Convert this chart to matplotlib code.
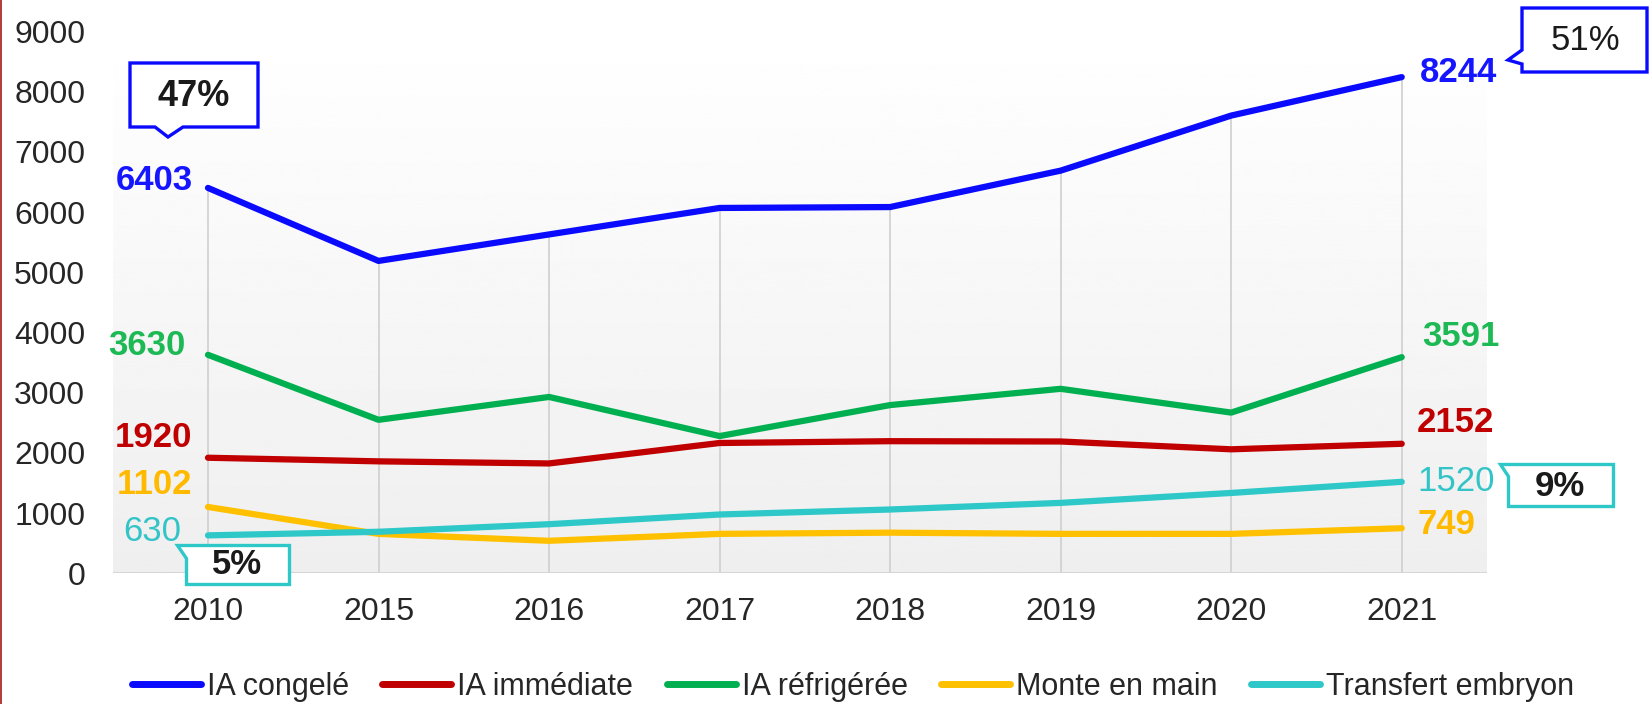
import matplotlib
matplotlib.use("Agg")
import matplotlib.pyplot as plt
from matplotlib.patches import Polygon
from matplotlib.lines import Line2D
import numpy as np

YEARS = ["2010", "2015", "2016", "2017", "2018", "2019", "2020", "2021"]

IA_CONGELE = [6403, 5190, 5630, 6070, 6085, 6690, 7605, 8244]
IA_IMMEDIATE = [1920, 1860, 1825, 2165, 2195, 2190, 2060, 2152]
IA_REFRIGEREE = [3630, 2550, 2930, 2280, 2795, 3065, 2670, 3591]
MONTE_EN_MAIN = [1102, 655, 540, 655, 675, 655, 655, 749]
TRANSFERT_EMBRYON = [630, 690, 816, 977, 1060, 1170, 1335, 1520]

SERIES_NAMES = ["IA congelé", "IA immédiate", "IA réfrigérée", "Monte en main", "Transfert embryon"]
SHARES_2010 = {"IA congelé": "47%", "Transfert embryon": "5%"}
SHARES_2021 = {"IA congelé": "51%", "Transfert embryon": "9%"}

W, H = 1650, 704

plt.rcParams.update({
    "font.family": ["Liberation Sans", "DejaVu Sans"],
})

fig = plt.figure(figsize=(W / 100, H / 100), dpi=100)
fig.patch.set_facecolor("white")


def px(x, y):
    # figure pixel (y down) -> figure fraction
    return (x / W, 1 - y / H)


ax = fig.add_axes([113 / W, 1 - 573.3 / H, (1487 - 113) / W, (573.3 - 31.6) / H])
ax.set_facecolor("white")

x = np.arange(len(YEARS))
series = [IA_CONGELE, IA_IMMEDIATE, IA_REFRIGEREE, MONTE_EN_MAIN, TRANSFERT_EMBRYON]
colors = ["#0a0aff", "#c00000", "#00b050", "#ffc000", "#2ec8c8"]
label_colors = ["#1515ff", "#c00000", "#1db954", "#ffba00", "#33c4c8"]

# gradient background of the plot area
grad = np.linspace(0.935, 1.0, 256).reshape(-1, 1)
ax.imshow(grad, cmap="gray", vmin=0, vmax=1, aspect="auto", origin="lower",
          extent=[0, 1, 0, 1], transform=ax.transAxes, zorder=0)

# drop lines from the highest series down to the axis
tops = np.max(np.array(series), axis=0)
ax.vlines(x, 0, tops, color="#cfcfcf", linewidth=1.2, zorder=1)
ax.axhline(0, color="#d6d6d6", linewidth=2.2, zorder=1)

for vals, col, name in zip(series, colors, SERIES_NAMES):
    ax.plot(x, vals, color=col, linewidth=4.5, solid_capstyle="round",
            solid_joinstyle="round", zorder=3, label=name, clip_on=False)

ax.set_xlim(-0.557, 7.5)
ax.set_ylim(0, 9000)
ax.set_yticks(np.arange(0, 9001, 1000))
ax.set_xticks(x)
ax.set_xticklabels(YEARS)
ax.tick_params(axis="both", length=0, labelsize=23, colors="#262626")
ax.tick_params(axis="y", pad=20)
ax.tick_params(axis="x", pad=17)
for s in ax.spines.values():
    s.set_visible(False)

# data labels at first and last points (offsets in points)
left_offsets = [(-11, 5.5), (-11.5, 14.5), (-16.5, 6.5), (-11, 16.5), (-19, 3)]
right_offsets = [(13, 3), (11, 15), (15, 15), (11, 3), (11, 0)]
weights = ["bold", "bold", "bold", "bold", "normal"]
for vals, lc, lo, ro, wt in zip(series, label_colors, left_offsets, right_offsets, weights):
    ax.annotate(f"{vals[0]}", xy=(0, vals[0]), xytext=lo, textcoords="offset points",
                ha="right", va="center", fontsize=25, fontweight=wt, color=lc,
                annotation_clip=False, zorder=4)
    ax.annotate(f"{vals[-1]}", xy=(len(vals) - 1, vals[-1]), xytext=ro,
                textcoords="offset points", ha="left", va="center", fontsize=25,
                fontweight=wt, color=lc, annotation_clip=False, zorder=4)


def callout(points, edge, text, center, weight="bold", size=25):
    poly = Polygon([px(*p) for p in points], closed=True, transform=fig.transFigure,
                   facecolor="white", edgecolor=edge, linewidth=2.4, joinstyle="miter",
                   zorder=5)
    fig.add_artist(poly)
    fig.text(*px(*center), text, ha="center", va="center", fontsize=size,
             fontweight=weight, color="#1a1a1a", zorder=6)


callout([(130, 63), (258, 63), (258, 127), (183, 127), (168, 137), (155, 127), (130, 127)],
        colors[0], SHARES_2010["IA congelé"], (194, 96), size=26)
callout([(1522, 8), (1647, 8), (1647, 72), (1522, 72), (1522, 64), (1508, 60), (1522, 50)],
        colors[0], SHARES_2021["IA congelé"], (1585, 40), weight="normal", size=25)
callout([(177, 545), (289, 545), (289, 584), (186, 584), (186, 558)],
        colors[4], SHARES_2010["Transfert embryon"], (237, 564), size=25)
callout([(1500, 464), (1613, 464), (1613, 506), (1508, 506), (1508, 476)],
        colors[4], SHARES_2021["Transfert embryon"], (1560, 486), size=25)

# legend
handles = [Line2D([0], [0], color=c, linewidth=5, solid_capstyle="round") for c in colors]
leg = fig.legend(handles, SERIES_NAMES, loc="center", bbox_to_anchor=(853 / W, 1 - 687 / H),
                 ncol=5, frameon=False, handlelength=2.25, handletextpad=0.2,
                 columnspacing=1.1, prop={"size": 22})
for t in leg.get_texts():
    t.set_color("#262626")

# thin red border on the left edge
fig.add_artist(Line2D([0.8 / W, 0.8 / W], [0, 1], transform=fig.transFigure,
                      color="#b03a3a", linewidth=1.4))

fig.savefig("out.png", dpi=100)
